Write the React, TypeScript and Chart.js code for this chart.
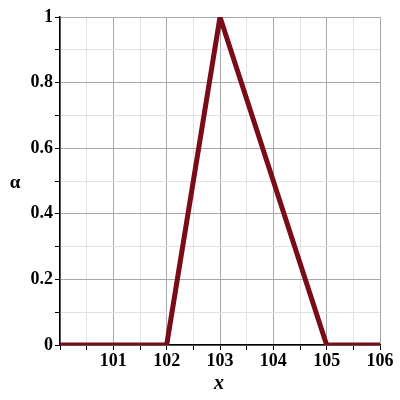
import React, { useEffect, useRef } from "react";
import { Chart, registerables } from "chart.js";

Chart.register(...registerables);

const xValues = [100, 102, 103, 105, 106];
const alphaValues = [0, 0, 1, 0, 0];
const xLabelTicks = [101, 102, 103, 104, 105, 106];
const yLabelTicks = [0, 0.2, 0.4, 0.6, 0.8, 1];
const xTitle = "x";
const yTitle = "α";

const FONT = "'Liberation Serif', 'Times New Roman', serif";

const near = (v: number, arr: number[]) => arr.some((a) => Math.abs(a - v) < 1e-6);

export default function App() {
  const ref = useRef<HTMLCanvasElement | null>(null);
  useEffect(() => {
    if (!ref.current) return;
    const titlePlugin = {
      id: "titles",
      afterDraw(chart: any) {
        const ctx = chart.ctx;
        const area = chart.chartArea;
        ctx.save();
        ctx.fillStyle = "#000";
        ctx.textAlign = "center";
        ctx.textBaseline = "middle";
        ctx.font = `bold 19px ${FONT}`;
        ctx.fillText(yTitle, 15, (area.top + area.bottom) / 2 + 2);
        ctx.font = `italic bold 20px ${FONT}`;
        ctx.fillText(xTitle, (area.left + area.right) / 2 - 1, 384);
        ctx.restore();
      },
    };
    const chart = new Chart(ref.current, {
      type: "line",
      data: {
        datasets: [
          {
            data: xValues.map((x, i) => ({ x, y: alphaValues[i] })),
            borderColor: "#7a0c18",
            borderWidth: 5,
            pointRadius: 0,
            tension: 0,
            borderJoinStyle: "miter",
          },
        ],
      },
      options: {
        animation: false,
        responsive: false,
        maintainAspectRatio: false,
        layout: { padding: { left: 0, top: 17, right: 20, bottom: 0 } },
        plugins: { legend: { display: false }, tooltip: { enabled: false } },
        scales: {
          x: {
            type: "linear",
            min: 100,
            max: 106,
            afterFit: (s: any) => {
              s.height = 55;
            },
            ticks: {
              stepSize: 0.5,
              autoSkip: false,
              maxRotation: 0,
              padding: 1,
              color: "#000",
              font: { family: FONT, size: 18, weight: "bold" },
              callback: (v: any) => (near(Number(v), xLabelTicks) ? String(v) : ""),
            },
            grid: {
              color: (c: any) =>
                Number.isInteger(c.tick?.value) ? "#a8a8a8" : "#e2e2e2",
              tickColor: "#000",
              tickLength: 5,
              lineWidth: 1,
            },
            border: { color: "#000", width: 1.5 },
          },
          y: {
            type: "linear",
            min: 0,
            max: 1,
            afterFit: (s: any) => {
              s.width = 60;
            },
            ticks: {
              stepSize: 0.1,
              autoSkip: false,
              padding: 2,
              color: "#000",
              font: { family: FONT, size: 18, weight: "bold" },
              callback: (v: any) => (near(Number(v), yLabelTicks) ? String(Number(v)) : ""),
            },
            grid: {
              color: (c: any) =>
                near(c.tick?.value ?? -1, yLabelTicks) ? "#a8a8a8" : "#e2e2e2",
              tickColor: "#000",
              tickLength: 5,
              lineWidth: 1,
            },
            border: { color: "#000", width: 1.5 },
          },
        },
      },
      plugins: [titlePlugin],
    } as any);
    return () => chart.destroy();
  }, []);
  return (
    <div style={{ position: "fixed", left: 0, top: 0, width: 400, height: 400, background: "#fff" }}>
      <canvas ref={ref} width={400} height={400} style={{ width: 400, height: 400 }} />
    </div>
  );
}
